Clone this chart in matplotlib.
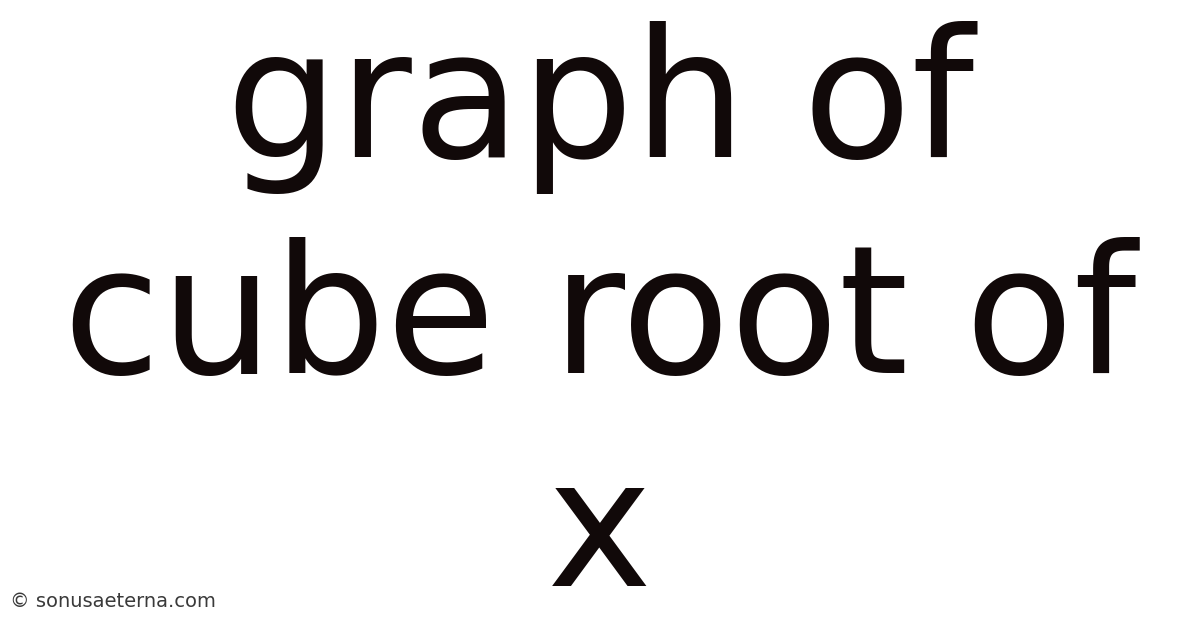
import matplotlib.pyplot as plt

lines = ["graph of", "cube root of", "x"]
baselines = [157, 373, 586]  # pixel rows from top
watermark = "© sonusaeterna.com"

W, H = 1200, 628
fig = plt.figure(figsize=(W / 100, H / 100), dpi=100)
fig.patch.set_facecolor("white")

for txt, yb in zip(lines, baselines):
    fig.text(0.5, 1 - yb / H, txt, ha="center", va="baseline",
             fontsize=128, color="#110909", family="DejaVu Sans")

fig.text(10 / W, 1 - 607 / H, watermark, ha="left", va="baseline",
         fontsize=14, color="#3a3a3a", family="DejaVu Sans")

fig.savefig("out.png", dpi=100, facecolor="white")
